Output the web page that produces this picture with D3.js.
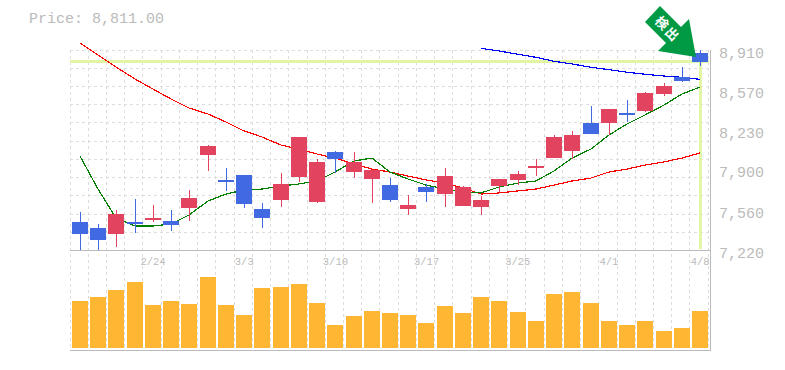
<!DOCTYPE html>
<html>
<head>
<meta charset="utf-8">
<title>Price chart</title>
<script src="https://cdn.jsdelivr.net/npm/d3@7"></script>
<style>
  html, body { margin: 0; padding: 0; background: #fff; }
  svg { display: block; }
  text { font-family: "Liberation Mono", monospace; fill: #bbb; }
</style>
</head>
<body>
<div id="plot"></div>
<script>
// values
const dates = ['2/18','2/19','2/20','2/21','2/24','2/25','2/26','2/27','2/28','3/3','3/4','3/5','3/6','3/7','3/10','3/11','3/12','3/13','3/14','3/17','3/18','3/19','3/21','3/24','3/25','3/26','3/27','3/28','3/31','4/1','4/2','4/3','4/4','4/7','4/8']
const opens  = [7457,7406,7355,7457,7474,7465,7575,8023,7812,7854,7566,7643,7837,7626,8048,7879,7820,7769,7566,7752,7693,7592,7583,7761,7812,7913,7997,8057,8293,8293,8378,8395,8538,8682,8885]
const highs  = [7541,7440,7558,7651,7600,7558,7727,8107,7913,7854,7617,7871,8175,7989,8057,8048,7896,7828,7685,7778,7913,7761,7676,7820,7888,7989,8192,8226,8437,8411,8488,8555,8631,8766,8910]
const lows   = [7220,7220,7245,7364,7457,7381,7465,7888,7719,7575,7406,7583,7795,7617,7871,7828,7617,7626,7516,7626,7583,7592,7516,7710,7769,7845,7997,7989,8200,8192,8302,8386,8521,8640,8775]
const closes = [7355,7305,7524,7437,7490,7431,7659,8099,7795,7609,7490,7778,8175,7964,7989,7964,7896,7643,7600,7710,7845,7752,7643,7820,7862,7930,8175,8192,8200,8411,8369,8547,8606,8648,8811]
const maShort = [8014,7735,7490,7423,7423,7440,7516,7634,7693,7727,7735,7761,7778,7803,7879,7972,7997,7879,7820,7769,7735,7710,7702,7752,7786,7803,7888,7997,8073,8192,8285,8361,8445,8538,8597]
const maMid   = [8969,8868,8766,8665,8580,8496,8420,8369,8302,8226,8175,8107,8073,8031,7997,7947,7904,7879,7845,7812,7786,7744,7693,7702,7719,7735,7769,7803,7828,7879,7904,7938,7964,7997,8040]
const maLong  = [null,null,null,null,null,null,null,null,null,null,null,null,null,null,null,null,null,null,null,null,null,null,8924,8902,8874,8848,8815,8792,8764,8744,8722,8705,8690,8679,8662]
const volumes = [470,510,580,660,430,470,440,710,430,330,600,610,640,450,230,320,370,350,330,250,420,350,510,470,360,270,540,560,450,270,230,270,170,200,370]
const yTicks = [8910,8570,8230,7900,7560,7220]
const gridPrices = [8910,8758,8606,8454,8302,8141,7989,7837,7685,7524,7372]
const xTickDates = ['2/24','3/3','3/10','3/17','3/25','4/1','4/8']
const lastPrice = 8811

const chartW = 785, chartH = 370
const plotLeft = 70, plotRight = 708.235, plotTop = 50, priceBottom = 250, volBottom = 348, frameBottom = 350
const up = '#e2445f', down = '#4169e1', hilite = '#e1f5a5', axisGrey = '#bbb', gridGrey = '#ddd'

let svg = d3.select('#plot').append('svg')
    .attr('width', chartW)
    .attr('height', chartH)

let x = d3.scaleBand().domain(dates).range([plotLeft, plotRight])
let y = d3.scaleLinear().domain([7220, 8910]).range([priceBottom, plotTop])
let yVol = d3.scaleLinear().domain([0, 800]).range([volBottom, volBottom - 80])

// candle left edge, snapped like the original bitmap
let barX = d => Math.round(x(d)) + 2
let midX = d => barX(d) + 8

svg.append('text')
    .attr('x', 29)
    .attr('y', 23)
    .attr('font-size', 15)
    .text('Price: ' + d3.format(',.2f')(lastPrice))

// grid
let grid = svg.append('g')
    .attr('stroke', gridGrey)
    .attr('stroke-dasharray', '3,3')
    .attr('fill', 'none')
grid.selectAll('.h').data(gridPrices).join('line')
    .attr('class', 'h')
    .attr('x1', plotLeft).attr('x2', 710)
    .attr('y1', d => Math.round(y(d)) + 0.5)
    .attr('y2', d => Math.round(y(d)) + 0.5)
let edges = dates.map(d => x(d)).concat([plotRight])
grid.selectAll('.v').data(edges).join('line')
    .attr('class', 'v')
    .attr('x1', d => Math.floor(d) + 0.5)
    .attr('x2', d => Math.floor(d) + 0.5)
    .attr('y1', plotTop).attr('y2', frameBottom)

// frame
let frame = svg.append('g').attr('stroke', axisGrey).attr('fill', 'none')
frame.append('line').attr('x1', plotLeft).attr('x2', 711).attr('y1', priceBottom + 0.5).attr('y2', priceBottom + 0.5)
frame.append('line').attr('x1', plotLeft).attr('x2', 711).attr('y1', frameBottom + 0.5).attr('y2', frameBottom + 0.5)
frame.append('line').attr('x1', 710.5).attr('x2', 710.5).attr('y1', plotTop).attr('y2', frameBottom + 1)

// last price crosshair
let lastDate = dates[dates.length - 1]
svg.append('rect')
    .attr('x', plotLeft).attr('width', plotRight - plotLeft + 1)
    .attr('y', Math.round(y(lastPrice)) - 2).attr('height', 3)
    .attr('fill', hilite)
svg.append('rect')
    .attr('x', midX(lastDate) - 1).attr('width', 3)
    .attr('y', Math.round(y(lastPrice))).attr('height', priceBottom - 1 - Math.round(y(lastPrice)))
    .attr('fill', hilite)

// moving averages
let maLine = d3.line()
    .defined(d => d[1] != null)
    .x(d => midX(d[0]))
    .y(d => y(d[1]))
let drawMa = (values, colour) => {
    svg.append('path')
        .attr('d', maLine(values.map((v, i) => [dates[i], v])))
        .attr('fill', 'none')
        .attr('stroke', colour)
        .attr('stroke-width', 1.2)
        .attr('shape-rendering', 'crispEdges')
}
drawMa(maLong, '#0000ff')
drawMa(maMid, '#ff0000')
drawMa(maShort, '#008000')

// candles
let candles = svg.append('g').selectAll('g').data(dates).join('g')
    .attr('fill', (d, i) => closes[i] < opens[i] ? down : up)
candles.append('rect')
    .attr('x', d => midX(d))
    .attr('width', 1)
    .attr('y', (d, i) => Math.round(y(highs[i])))
    .attr('height', (d, i) => Math.round(y(lows[i])) - Math.round(y(highs[i])))
candles.append('rect')
    .attr('x', d => barX(d))
    .attr('width', 16)
    .attr('y', (d, i) => Math.round(y(Math.max(opens[i], closes[i]))))
    .attr('height', (d, i) => Math.max(2, Math.round(y(Math.min(opens[i], closes[i]))) - Math.round(y(Math.max(opens[i], closes[i])))))

// volume
svg.append('g').selectAll('rect').data(dates).join('rect')
    .attr('x', d => barX(d))
    .attr('width', 16)
    .attr('y', (d, i) => yVol(volumes[i]))
    .attr('height', (d, i) => volBottom - yVol(volumes[i]))
    .attr('fill', '#ffb733')

// axes
let yAxis = svg.append('g')
    .attr('transform', 'translate(719,2.5)')
    .call(d3.axisRight(y).tickValues(yTicks).tickSize(0).tickPadding(0).tickFormat(d3.format(',')))
yAxis.select('.domain').remove()
yAxis.attr('font-family', null)
yAxis.selectAll('text').attr('font-size', 15)

let xAxis = svg.append('g')
    .attr('transform', 'translate(1,' + priceBottom + ')')
    .call(d3.axisBottom(x).tickValues(xTickDates).tickSize(0).tickPadding(8))
xAxis.select('.domain').remove()
xAxis.attr('font-family', null)
xAxis.selectAll('text').attr('font-size', 10.5)

// signal arrow
let arrow = svg.append('g')
arrow.append('polygon')
    .attr('points', '660,6 645,22 666,43 658,51 696,57 689,19 681,27')
    .attr('fill', '#009944')
arrow.selectAll('.mark').data([['検', 662, 23], ['出', 672, 34]]).join('text')
    .attr('class', 'mark')
    .attr('transform', d => 'translate(' + d[1] + ',' + d[2] + ') rotate(45)')
    .attr('text-anchor', 'middle')
    .attr('dy', '0.36em')
    .attr('font-size', 13)
    .attr('font-weight', 'bold')
    .style('font-family', '"Noto Sans CJK JP"')
    .style('fill', '#fff')
    .text(d => d[0])
</script>
</body>
</html>
